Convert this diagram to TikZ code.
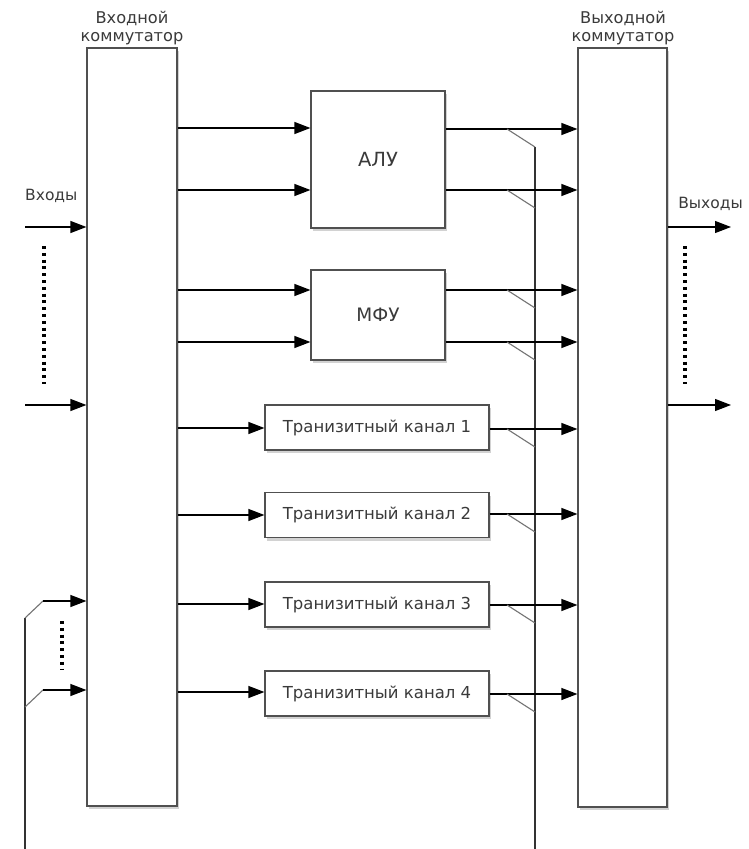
\documentclass[tikz,border=0pt]{standalone}
\usepackage{fontspec}
\setmainfont{DejaVu Sans}
\usetikzlibrary{arrows.meta,shadows,calc}
\definecolor{txt}{HTML}{3a3a3a}
\definecolor{edge}{HTML}{505050}
\begin{document}
\begin{tikzpicture}[x=1pt,y=-1pt,
  box/.style={draw=edge,line width=1.2pt,fill=white,rectangle,inner sep=0pt,
    drop shadow={shadow xshift=2pt,shadow yshift=-3pt,opacity=0.35,fill=black!50}},
  lbl/.style={text=txt,font=\fontsize{15.5}{18}\selectfont,inner sep=0pt},
  arr/.style={line width=1.2pt,-{Triangle[length=16pt,width=12pt]}},
  wire/.style={line width=1.2pt,draw=black!80},
  tick/.style={line width=1.1pt,draw=black!55},
  dotsline/.style={line width=3.2pt,dash pattern=on 3pt off 3.8pt,draw=black}
]
\useasboundingbox[fill=white] (0,0) rectangle (749,849);

% switches
\node[box,minimum width=90pt,minimum height=758pt] (in) at (132,427) {};
\node[box,minimum width=89pt,minimum height=759pt] (out) at (622.5,427.5) {};
\node[lbl,align=center,anchor=base,font=\fontsize{16.2}{18}\selectfont] (inlbl) at (132,41) {Входной\\коммутатор};
\node[lbl,align=center,anchor=base,font=\fontsize{16.2}{18}\selectfont] (outlbl) at (623,41) {Выходной\\коммутатор};

% functional units
\node[box,minimum width=134pt,minimum height=137pt,font=\fontsize{19.5}{22}\selectfont,text=txt] (alu) at (378,159.5) {АЛУ};
\node[box,minimum width=134pt,minimum height=90pt,font=\fontsize{18.5}{20}\selectfont,text=txt] (mfu) at (378,315) {МФУ};
\foreach \i/\y in {1/427.5,2/515,3/604.5,4/693.5}{
  \node[box,minimum width=224pt,minimum height=45pt,font=\fontsize{16.5}{18}\selectfont,text=txt] (ch\i) at (377,\y) {Транизитный канал \i};
}

% inputs to units
\foreach \n/\y in {alu/128,alu/190,mfu/290,mfu/342,ch1/428,ch2/515,ch3/604,ch4/692}{
  \draw[arr] (in.east |- 0,\y) -- (\n.west |- 0,\y);
}

% outputs of units to output switch, with taps to feedback bus
\coordinate (fbtop) at (535,147);
\coordinate (fbbot) at (535,849);
\draw[wire] (fbtop) -- (fbbot);
\foreach \n/\y in {alu/129,alu/190,mfu/290,mfu/342,ch1/429,ch2/514,ch3/605,ch4/694}{
  \draw[arr] (\n.east |- 0,\y) -- (out.west |- 0,\y);
  \draw[tick] (507,\y) -- (fbtop |- 0,\y+18);
}

% external inputs and outputs
\node[lbl,anchor=base west] (inputs) at (25,200) {Входы};
\node[lbl,anchor=base east] (outputs) at (743,208) {Выходы};
\coordinate (ia) at (25,227);
\coordinate (ib) at (25,405);
\draw[arr] (ia) -- (in.west |- ia);
\draw[arr] (ib) -- (in.west |- ib);
\coordinate (oa) at (731,227);
\coordinate (ob) at (731,405);
\draw[arr] (out.east |- oa) -- (oa);
\draw[arr] (out.east |- ob) -- (ob);
\draw[dotsline] (44,246) -- (44,384);
\draw[dotsline] (685,246) -- (685,384);

% feedback inputs
\coordinate (fl) at (25,849);
\coordinate (fla) at (25,618);
\coordinate (flb) at (25,707);
\draw[wire] (fl) -- (fla);
\draw[tick] (fla) -- (43,601);
\draw[tick] (flb) -- (43,690);
\draw[arr] (43,601) -- (in.west |- 0,601);
\draw[arr] (43,690) -- (in.west |- 0,690);
\draw[dotsline] (62,621) -- (62,670);
\end{tikzpicture}
\end{document}
